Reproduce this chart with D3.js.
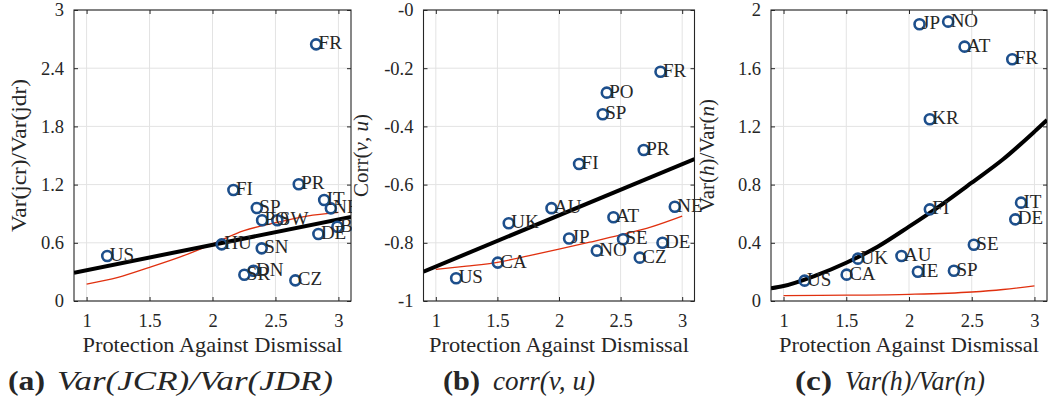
<!DOCTYPE html>
<html><head><meta charset="utf-8">
<script src="https://cdn.jsdelivr.net/npm/d3@7"></script>
<style>
body{margin:0;background:#fff}
svg text{font-family:"Liberation Serif","DejaVu Serif",serif;fill:#262626}
</style>
</head><body>
<svg id="chart" width="1051" height="404" style="background:#fff"></svg>
<script>
// ---------- shared axis data ----------
const xTicks = [1, 1.5, 2, 2.5, 3];
const xTickLabels = ["1", "1.5", "2", "2.5", "3"];
const xLabel = "Protection Against Dismissal";

// ---------- panel (a) Var(JCR)/Var(JDR) ----------
const codesA = ["FR","FI","PR","IT","NE","SP","PO","SW","DE","BE","HU","SN","US","SR","DN","CZ"];
const xA = [2.823,2.166,2.685,2.887,2.94,2.352,2.394,2.515,2.841,2.992,2.073,2.391,1.164,2.253,2.325,2.658];
const yA = [2.646,1.144,1.203,1.041,0.955,0.959,0.832,0.832,0.691,0.766,0.584,0.543,0.464,0.271,0.312,0.213];
const yTicksA = [0, 0.6, 1.2, 1.8, 2.4, 3];
const yTickLabelsA = ["0","0.6","1.2","1.8","2.4","3"];
const fitXA = [0.9, 3.1];
const fitYA = [0.292, 0.866];
const modelXA = [1, 1.25, 1.5, 1.75, 2, 2.25, 2.5, 2.75, 3];
const modelYA = [0.175, 0.244, 0.347, 0.457, 0.588, 0.725, 0.807, 0.876, 0.914];

// ---------- panel (b) corr(v,u) ----------
const codesB = ["FR","PO","SP","PR","FI","AU","NE","AT","UK","JP","SE","DE","NO","CZ","CA","US"];
const xB = [2.824,2.388,2.355,2.688,2.163,1.939,2.94,2.442,1.592,2.082,2.52,2.84,2.307,2.656,1.503,1.165];
const yB = [-0.212,-0.284,-0.358,-0.481,-0.529,-0.681,-0.676,-0.712,-0.733,-0.785,-0.788,-0.80,-0.827,-0.851,-0.868,-0.922];
const yTicksB = [-1, -0.8, -0.6, -0.4, -0.2, 0];
const yTickLabelsB = ["-1","-0.8","-0.6","-0.4","-0.2","-0"];
const fitXB = [0.9, 3.1];
const fitYB = [-0.899, -0.512];
const modelXB = [1, 1.25, 1.5, 1.75, 2, 2.25, 2.5, 2.75, 3];
const modelYB = [-0.891, -0.88, -0.867, -0.845, -0.822, -0.798, -0.773, -0.745, -0.708];

// ---------- panel (c) Var(h)/Var(n) ----------
const codesC = ["JP","NO","AT","FR","KR","IT","FI","DE","SE","AU","UK","SP","IE","CA","US"];
const xC = [2.084,2.312,2.443,2.823,2.166,2.893,2.166,2.847,2.517,1.94,1.593,2.358,2.071,1.503,1.168];
const yC = [1.902,1.92,1.748,1.661,1.249,0.676,0.630,0.561,0.387,0.309,0.291,0.208,0.201,0.181,0.14];
const yTicksC = [0, 0.4, 0.8, 1.2, 1.6, 2];
const yTickLabelsC = ["0","0.4","0.8","1.2","1.6","2"];
const fitXC = [0.9, 1.0, 1.25, 1.5, 1.75, 2.0, 2.25, 2.5, 2.75, 3.0, 3.1];
const fitYC = [0.087, 0.103, 0.173, 0.263, 0.373, 0.511, 0.656, 0.813, 0.974, 1.164, 1.244];
const modelXC = [1, 1.5, 2, 2.5, 2.75, 3];
const modelYC = [0.037, 0.04, 0.046, 0.062, 0.079, 0.104];

// ---------- captions ----------
const captionTags = ["(a)", "(b)", "(c)"];
const captionTexts = ["Var(JCR)/Var(JDR)", "corr(v, u)", "Var(h)/Var(n)"];

// ---------- drawing ----------
const FONT = '"Liberation Serif","DejaVu Serif",serif';
const svg = d3.select("#chart");
const TOP = 10, BOTTOM = 301;
const BOX = "#262626", GRID = "#e3e3e3", BLUE = "#1d4f8c", RED = "#e0300f";

const panels = [
  {left: 74, right: 351, ydom: [0, 3], yt: yTicksA, ytl: yTickLabelsA,
   codes: codesA, xs: xA, ys: yA, fx: fitXA, fy: fitYA, mx: modelXA, my: modelYA,
   ylabel: [{t:"Var(jcr)/Var(jdr)"}], ylx: 26, yLen: 153, clipRight: 352,
   capX: 8, capTextX: 57, capLen: 276},
  {left: 423.5, right: 694.5, ydom: [-1, 0], yt: yTicksB, ytl: yTickLabelsB,
   codes: codesB, xs: xB, ys: yB, fx: fitXB, fy: fitYB, mx: modelXB, my: modelYB,
   ylabel: [{t:"Corr("},{t:"v",i:1},{t:", "},{t:"u",i:1},{t:")"}], ylx: 368, yLen: null, clipRight: null,
   capX: 443, capTextX: 493, capLen: 102},
  {left: 771, right: 1047, ydom: [0, 2], yt: yTicksC, ytl: yTickLabelsC,
   codes: codesC, xs: xC, ys: yC, fx: fitXC, fy: fitYC, mx: modelXC, my: modelYC,
   ylabel: [{t:"Var("},{t:"h",i:1},{t:")/Var("},{t:"n",i:1},{t:")"}], ylx: 714, yLen: null, clipRight: null,
   capX: 795, capTextX: 845, capLen: 140}
];

panels.forEach((p, k) => {
  const x = d3.scaleLinear().domain([0.9, 3.1]).range([p.left, p.right]);
  const y = d3.scaleLinear().domain(p.ydom).range([BOTTOM, TOP]);
  const g = svg.append("g").style("font-family", FONT);

  // grid
  g.selectAll(".gx").data(xTicks).join("line")
    .attr("x1", d => x(d)).attr("x2", d => x(d)).attr("y1", TOP).attr("y2", BOTTOM)
    .attr("stroke", GRID).attr("stroke-width", 1);
  g.selectAll(".gy").data(p.yt).join("line")
    .attr("y1", d => y(d)).attr("y2", d => y(d)).attr("x1", p.left).attr("x2", p.right)
    .attr("stroke", GRID).attr("stroke-width", 1);

  // axes
  const ax = [
    g.append("g").attr("transform", `translate(0,${BOTTOM})`)
      .call(d3.axisBottom(x).tickValues(xTicks).tickFormat((d, i) => xTickLabels[i]).tickSize(-4).tickPadding(13)),
    g.append("g").attr("transform", `translate(0,${TOP})`)
      .call(d3.axisTop(x).tickValues(xTicks).tickFormat("").tickSize(-4)),
    g.append("g").attr("transform", `translate(${p.left},0)`)
      .call(d3.axisLeft(y).tickValues(p.yt).tickFormat((d, i) => p.ytl[i]).tickSize(-4).tickPadding(10)),
    g.append("g").attr("transform", `translate(${p.right},0)`)
      .call(d3.axisRight(y).tickValues(p.yt).tickFormat("").tickSize(-4))
  ];
  ax.forEach(a => {
    a.attr("font-family", null).attr("font-size", null);
    a.select(".domain").remove();
    a.selectAll(".tick line").attr("stroke", BOX);
    a.selectAll("text").attr("font-size", 18.5).attr("fill", "#262626")
      .style("font-family", FONT);
  });

  // box
  g.append("rect").attr("x", p.left).attr("y", TOP)
    .attr("width", p.right - p.left).attr("height", BOTTOM - TOP)
    .attr("fill", "none").attr("stroke", BOX).attr("stroke-width", 1.1);

  // clip for plot content
  const cid = "clip" + k;
  svg.append("clipPath").attr("id", cid).append("rect")
    .attr("x", p.left).attr("y", TOP).attr("width", p.right - p.left).attr("height", BOTTOM - TOP);

  // model (red) line
  const line = d3.line().x(d => x(d[0])).y(d => y(d[1])).curve(d3.curveMonotoneX);
  g.append("path").datum(p.mx.map((v, i) => [v, p.my[i]]))
    .attr("d", line).attr("fill", "none").attr("stroke", RED).attr("stroke-width", 1.3);
  // fitted (black) line
  g.append("path").datum(p.fx.map((v, i) => [v, p.fy[i]]))
    .attr("d", line).attr("fill", "none").attr("stroke", "#000").attr("stroke-width", 4)
    .attr("clip-path", `url(#${cid})`);

  // points
  const pts = p.codes.map((c, i) => ({c, x: p.xs[i], y: p.ys[i]}));
  g.selectAll(".pt").data(pts).join("circle")
    .attr("cx", d => x(d.x)).attr("cy", d => y(d.y)).attr("r", 5)
    .attr("fill", "none").attr("stroke", BLUE).attr("stroke-width", 2.6);

  // labels
  const lg = g.append("g");
  if (p.clipRight) {
    const lc = "lclip" + k;
    svg.append("clipPath").attr("id", lc).append("rect")
      .attr("x", 0).attr("y", 0).attr("width", p.clipRight).attr("height", 404);
    lg.attr("clip-path", `url(#${lc})`);
  }
  lg.selectAll("text").data(pts).join("text")
    .attr("x", d => x(d.x) + 2.5).attr("y", d => y(d.y) + 5)
    .attr("font-size", 19).style("font-family", FONT).text(d => d.c);

  // x label
  g.append("text").attr("x", (x(1) + x(3)) / 2).attr("y", 352)
    .attr("text-anchor", "middle").attr("font-size", 21).style("font-family", FONT)
    .attr("textLength", 260).attr("lengthAdjust", "spacingAndGlyphs").text(xLabel);

  // y label
  const yl = g.append("text")
    .attr("transform", `translate(${p.ylx},${(TOP + BOTTOM) / 2}) rotate(-90)`)
    .attr("text-anchor", "middle").attr("font-size", 21).style("font-family", FONT);
  if (p.yLen) yl.attr("textLength", p.yLen).attr("lengthAdjust", "spacingAndGlyphs");
  p.ylabel.forEach(s => {
    const ts = yl.append("tspan").text(s.t);
    if (s.i) ts.attr("font-style", "italic");
  });

  // caption
  g.append("text").attr("x", p.capX).attr("y", 390).attr("font-size", 27).style("font-family", FONT)
    .attr("font-weight", "bold").attr("fill", "#111")
    .attr("textLength", 37).attr("lengthAdjust", "spacingAndGlyphs").text(captionTags[k]);
  g.append("text").attr("x", p.capTextX).attr("y", 390).attr("font-size", 27).style("font-family", FONT)
    .attr("font-style", "italic").attr("fill", "#111")
    .attr("textLength", p.capLen).attr("lengthAdjust", "spacingAndGlyphs").text(captionTexts[k]);
});
</script>
</body></html>
